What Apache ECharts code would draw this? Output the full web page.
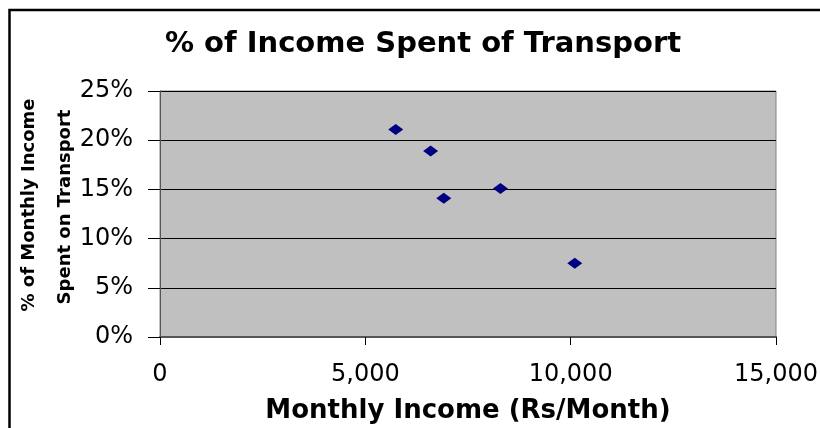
<!DOCTYPE html>
<html>
<head>
<meta charset="utf-8">
<script src="https://cdn.jsdelivr.net/npm/echarts@6/dist/echarts.min.js"></script>
<style>
  html, body { margin: 0; padding: 0; background: #fff; }
  #chart { width: 820px; height: 428px; }
</style>
</head>
<body>
<div id="chart"></div>
<script>
    // values
    const income = [5740, 6590, 6910, 8290, 10100]
    const share_transport = [0.211, 0.189, 0.141, 0.151, 0.075]

    const x_ticks = [0, 5000, 10000, 15000]
    const y_ticks = [0, 0.05, 0.10, 0.15, 0.20, 0.25]

    const font_name = 'DejaVu Sans, sans-serif'

    let chart = echarts.init(document.getElementById('chart'))

    let points = income.map((val, index) => [val, share_transport[index]])

    let option = {
        backgroundColor: '#fff',
        animation: false,
        title: {
            text: '% of Income Spent of Transport',
            left: 418,
            top: 25,
            textAlign: 'center',
            textStyle: {
                fontFamily: font_name,
                fontSize: 29,
                fontWeight: 'bold',
                color: '#000'
            }
        },
        graphic: [
            {
                type: 'rect',
                shape: {x: 9.5, y: 10, width: 830, height: 440},
                style: {fill: 'none', stroke: '#000', lineWidth: 2.5},
                silent: true
            },
            {
                type: 'text',
                x: 29,
                y: 205,
                rotation: Math.PI / 2,
                style: {
                    text: '% of Monthly Income',
                    fontFamily: font_name,
                    fontSize: 18,
                    fontWeight: 'bold',
                    fill: '#000',
                    align: 'center',
                    verticalAlign: 'middle'
                }
            },
            {
                type: 'text',
                x: 65,
                y: 207,
                rotation: Math.PI / 2,
                style: {
                    text: 'Spent on Transport',
                    fontFamily: font_name,
                    fontSize: 18,
                    fontWeight: 'bold',
                    fill: '#000',
                    align: 'center',
                    verticalAlign: 'middle'
                }
            }
        ],
        grid: {
            left: 160,
            top: 91,
            width: 616,
            height: 246,
            outerBoundsMode: 'none',
            containLabel: false,
            show: true,
            backgroundColor: '#C0C0C0',
            borderColor: '#808080',
            borderWidth: 1
        },
        xAxis: {
            type: 'value',
            min: x_ticks[0],
            max: x_ticks[x_ticks.length - 1],
            interval: 5000,
            name: 'Monthly Income (Rs/Month)',
            nameLocation: 'middle',
            nameGap: 61,
            nameTextStyle: {
                fontFamily: font_name,
                fontSize: 26,
                fontWeight: 'bold',
                color: '#000'
            },
            axisLine: {show: true, lineStyle: {color: '#555', width: 2}},
            axisTick: {show: true, length: 8, lineStyle: {color: '#000'}},
            axisLabel: {
                margin: 26,
                fontFamily: font_name,
                fontSize: 24,
                color: '#000',
                formatter: function (value) {
                    return value.toLocaleString('en-US')
                }
            },
            splitLine: {show: false}
        },
        yAxis: {
            type: 'value',
            min: y_ticks[0],
            max: y_ticks[y_ticks.length - 1],
            interval: 0.05,
            axisLine: {show: true, lineStyle: {color: '#555', width: 1}},
            axisTick: {show: true, length: 12, lineStyle: {color: '#000'}},
            axisLabel: {
                margin: 27,
                fontFamily: font_name,
                fontSize: 24,
                color: '#000',
                formatter: function (value) {
                    return Math.round(value * 100) + '%'
                }
            },
            splitLine: {show: true, lineStyle: {color: '#000', width: 1}}
        },
        series: [
            {
                type: 'scatter',
                data: points,
                symbol: 'diamond',
                symbolSize: [15, 11],
                itemStyle: {color: '#000080', opacity: 1}
            }
        ]
    }

    chart.setOption(option)
</script>
</body>
</html>
